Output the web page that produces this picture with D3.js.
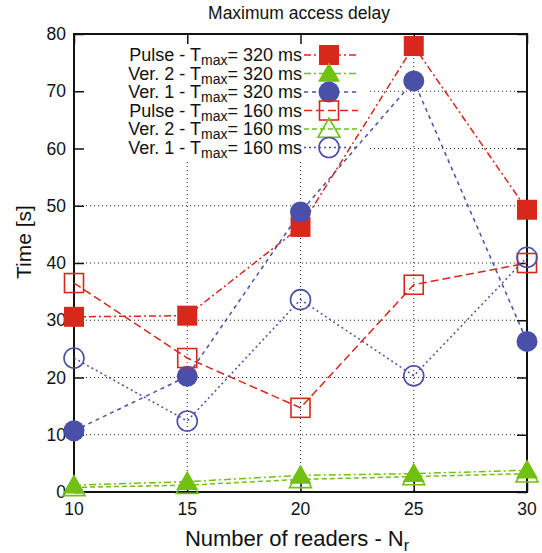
<!DOCTYPE html>
<html>
<head>
<meta charset="utf-8">
<script src="https://cdn.jsdelivr.net/npm/d3@7"></script>
<style>
body{margin:0;background:#fff;}
text{font-family:"Liberation Sans",Arial,sans-serif;fill:#111;}
</style>
</head>
<body>
<svg id="chart"></svg>
<script>
var width = 542;
var height = 553;

// data
var readers = [10, 15, 20, 25, 30];
var pulse320 = [30.6, 30.8, 46.3, 77.9, 49.3];
var ver2_320 = [1.2, 1.8, 2.9, 3.2, 3.8];
var ver1_320 = [10.7, 20.2, 48.9, 71.8, 26.3];
var pulse160 = [36.5, 23.4, 14.7, 36.2, 40.0];
var ver2_160 = [0.8, 1.2, 2.2, 2.7, 3.2];
var ver1_160 = [23.4, 12.4, 33.6, 20.3, 41.0];
var yTicks = [0, 10, 20, 30, 40, 50, 60, 70, 80];

var red = "#d8281c", green = "#72c010", blue = "#4a4fa8";

var series = [
  {name:"Pulse", t:"320", vals:pulse320, color:red, dash:"7,3,2,3", mark:"square", fill:true},
  {name:"Ver. 2", t:"320", vals:ver2_320, color:green, dash:"7,3,2,3", mark:"triangle", fill:true},
  {name:"Ver. 1", t:"320", vals:ver1_320, color:blue, dash:"4,4", mark:"circle", fill:true},
  {name:"Pulse", t:"160", vals:pulse160, color:red, dash:"8,4", mark:"square", fill:false},
  {name:"Ver. 2", t:"160", vals:ver2_160, color:green, dash:"5,3", mark:"triangle", fill:false},
  {name:"Ver. 1", t:"160", vals:ver1_160, color:blue, dash:"2,3", mark:"circle", fill:false}
];

var svg = d3.select('#chart')
            .attr("width",width)
            .attr("height",height)

var pLeft = 74, pRight = 527, pTop = 34, pBottom = 492;

var x = d3.scaleLinear().domain([10,30]).range([pLeft,pRight]);
var y = d3.scaleLinear().domain([0,80]).range([pBottom,pTop]);

// grid
var grid = svg.append("g")
grid.selectAll(".gy")
  .data(yTicks.slice(1,-1))
  .enter().append("line")
  .attr("x1",pLeft).attr("x2",pRight)
  .attr("y1",d=>y(d)).attr("y2",d=>y(d))
  .attr("stroke","#222").attr("stroke-width",1).attr("stroke-dasharray","1,3")
grid.selectAll(".gx")
  .data(readers.slice(1,-1))
  .enter().append("line")
  .attr("x1",d=>x(d)).attr("x2",d=>x(d))
  .attr("y1",pTop).attr("y2",pBottom)
  .attr("stroke","#222").attr("stroke-width",1).attr("stroke-dasharray","1,3")

// legend background hides grid
svg.append("rect").attr("x",pLeft+3).attr("y",pTop+3).attr("width",292).attr("height",124).attr("fill","#fff")

// ticks (inward, mirrored)
var axes = svg.append("g")
axes.append("g").attr("transform","translate("+pLeft+",0)")
  .call(d3.axisRight(y).tickValues(yTicks).tickSize(10).tickFormat(""))
axes.append("g").attr("transform","translate("+pRight+",0)")
  .call(d3.axisLeft(y).tickValues(yTicks).tickSize(10).tickFormat(""))
axes.append("g").attr("transform","translate(0,"+pBottom+")")
  .call(d3.axisTop(x).tickValues(readers).tickSize(10).tickFormat(""))
axes.append("g").attr("transform","translate(0,"+pTop+")")
  .call(d3.axisBottom(x).tickValues(readers).tickSize(10).tickFormat(""))
axes.selectAll(".domain").remove()
axes.selectAll("line").attr("stroke","#111").attr("stroke-width",1.5)

svg.append("rect").attr("x",pLeft).attr("y",pTop).attr("width",pRight-pLeft).attr("height",pBottom-pTop)
  .attr("fill","none").attr("stroke","#111").attr("stroke-width",2)

// tick labels
svg.selectAll(".yl").data(yTicks).enter().append("text")
  .attr("x",pLeft-8).attr("y",d=>y(d)+6)
  .attr("text-anchor","end").attr("font-size",17.5).text(d=>d)
svg.selectAll(".xl").data(readers).enter().append("text")
  .attr("x",d=>x(d)).attr("y",pBottom+23)
  .attr("text-anchor","middle").attr("font-size",17.5).text(d=>d)

// titles
svg.append("text").attr("x",299).attr("y",19).attr("text-anchor","middle")
  .attr("font-size",17.5).text("Maximum access delay")
svg.append("text").attr("transform","translate(31,242) rotate(-90)")
  .attr("text-anchor","middle").attr("font-size",21).text("Time [s]")
var xt = svg.append("text").attr("x",297).attr("y",546).attr("text-anchor","middle").attr("font-size",22)
xt.append("tspan").text("Number of readers - N")
xt.append("tspan").attr("font-size",16).attr("dy",5).text("r")

function marker(g, s, cx, cy){
  var sw = 1.6;
  if(s.mark=="square"){
    var h = s.fill ? 10 : 9.5;
    g.append("rect").attr("x",cx-h).attr("y",cy-h).attr("width",2*h).attr("height",2*h)
      .attr("fill",s.fill?s.color:"none").attr("stroke",s.fill?"none":s.color).attr("stroke-width",sw)
  } else if(s.mark=="circle"){
    g.append("circle").attr("cx",cx).attr("cy",cy).attr("r",s.fill?10.5:10)
      .attr("fill",s.fill?s.color:"none").attr("stroke",s.fill?"none":s.color).attr("stroke-width",sw)
  } else {
    var r = 11;
    var pts = [[cx,cy-r],[cx+r,cy+r*0.75],[cx-r,cy+r*0.75]];
    g.append("path").attr("d","M"+pts.join("L")+"Z")
      .attr("fill",s.fill?s.color:"none").attr("stroke",s.fill?"none":s.color).attr("stroke-width",sw)
  }
}

var line = d3.line().x((d,i)=>x(readers[i])).y(d=>y(d))

series.forEach(function(s){
  var g = svg.append("g")
  g.append("path").datum(s.vals).attr("d",line)
    .attr("fill","none").attr("stroke",s.color).attr("stroke-width",1.5).attr("stroke-dasharray",s.dash)
  s.vals.forEach(function(v,i){ marker(g, s, x(readers[i]), y(v)) })
})

// legend
var lg = svg.append("g")
series.forEach(function(s,i){
  var ly = 55 + i*18.5;
  var t = lg.append("text").attr("x",302).attr("y",ly+6).attr("text-anchor","end").attr("font-size",18)
  t.append("tspan").text(s.name+" - T")
  t.append("tspan").attr("font-size",14).attr("dy",4).text("max")
  t.append("tspan").attr("dy",-4).text("= "+s.t+" ms")
  lg.append("line").attr("x1",304).attr("x2",358).attr("y1",ly).attr("y2",ly)
    .attr("stroke",s.color).attr("stroke-width",1.5).attr("stroke-dasharray",s.dash)
  marker(lg, s, 329, ly)
})
</script>
</body>
</html>
